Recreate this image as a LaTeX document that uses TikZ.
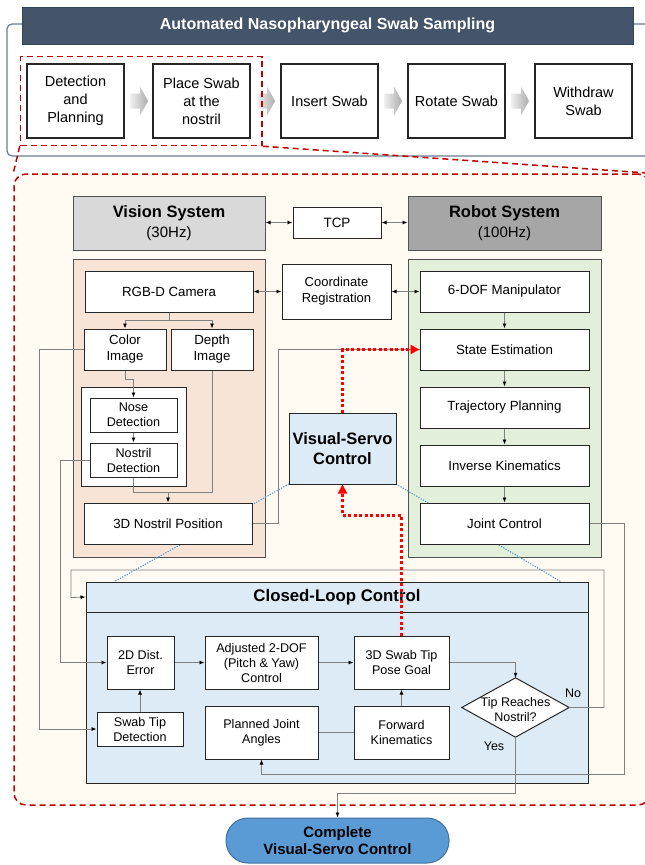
\documentclass[tikz,border=0pt]{standalone}
\usepackage{fontspec}
\setmainfont{Liberation Sans}
\usetikzlibrary{arrows.meta,calc,shapes.geometric}
\definecolor{hdrblue}{HTML}{44546A}
\definecolor{outerc}{HTML}{6B7B8F}
\definecolor{redd}{HTML}{C00000}
\definecolor{cream}{HTML}{FFFBF3}
\definecolor{vgray}{HTML}{D9D9D9}
\definecolor{rgray}{HTML}{A6A6A6}
\definecolor{peach}{HTML}{F8E4D7}
\definecolor{mint}{HTML}{E2EFDA}
\definecolor{lblue}{HTML}{DDEBF7}
\definecolor{pill}{HTML}{5B9BD5}
\definecolor{pillb}{HTML}{41719C}
\definecolor{connc}{HTML}{808080}
\definecolor{boxb}{HTML}{262626}
\begin{document}
\begin{tikzpicture}[x=1pt,y=-1pt,
  box/.style={draw=boxb, line width=1pt, fill=white, align=center, inner sep=1pt, font=\fontsize{13.3}{16}\selectfont},
  sbox/.style={box, font=\fontsize{12.6}{15}\selectfont},
  topbox/.style={box, line width=1.2pt, minimum width=97pt, minimum height=74pt, font=\fontsize{14.5}{18}\selectfont},
  rbox/.style={box, minimum width=169pt, minimum height=41pt},
  panel/.style={draw=boxb!80, line width=1pt, inner sep=0},
  hdrbox/.style={draw=boxb!80, line width=1pt, align=center, minimum width=192pt, minimum height=54pt, font=\fontsize{15}{20}\selectfont},
  conn/.style={draw=connc, line width=0.8pt},
  arr/.style={conn, -{Latex[length=5pt,width=4pt,color=black]}},
  dbl/.style={conn, {Latex[length=5pt,width=4pt,color=black]}-{Latex[length=5pt,width=4pt,color=black]}},
  reddot/.style={draw=red, line width=3pt, dash pattern=on 3pt off 2.5pt, -{Triangle[length=9pt,width=9pt,color=red]}},
  bdot/.style={draw=pill, line width=1.1pt, dash pattern=on 1.3pt off 1.3pt},
  reddash/.style={draw=redd, line width=1.5pt, dash pattern=on 6pt off 4pt}
]
\useasboundingbox (0,0) rectangle (645,865);
\clip (0,0) rectangle (645,865);
\fill[white] (0,0) rectangle (645,865);

% ---------- top section ----------
\node[draw=outerc, line width=1.2pt, rounded corners=5pt, minimum width=653pt, minimum height=132pt, inner sep=0] (frame) at (333.5,90) {};
\node[fill=hdrblue, draw=hdrblue!80!black, line width=0.8pt, minimum width=611pt, minimum height=37pt, inner sep=0, text=white, font=\fontsize{16}{19}\selectfont\bfseries] (title) at (327.5,25.5) {Automated Nasopharyngeal Swab Sampling};

\node[topbox] (s1) at (75.5,101) {Detection\\and\\Planning};
\node[topbox] (s2) at (201.5,101) {Place Swab\\at the\\nostril};
\node[topbox] (s3) at (329.5,101) {Insert Swab};
\node[topbox] (s4) at (456.5,101) {Rotate Swab};
\node[topbox] (s5) at (583.5,101) {Withdraw\\Swab};

\foreach \c in {139,266,393,520}{
  \shade[left color=gray!12, right color=gray!65]
    (\c-9,93.5) -- (\c+1,93.5) -- (\c+1,86.5) -- (\c+9,101) -- (\c+1,115.5) -- (\c+1,108.5) -- (\c-9,108.5) -- cycle;
}

% ---------- zoomed region ----------
\node[reddash, fill=cream, rounded corners=12pt, minimum width=636pt, minimum height=631pt, inner sep=0] (big) at (332,489.5) {};
\node[reddash, minimum width=241.5pt, minimum height=89pt, inner sep=0] (sel) at (141.25,101) {};
\draw[reddash] (sel.south west) -- (big.north west);
\draw[reddash] (sel.south east) -- (big.north east);

% headers
\node[hdrbox, fill=vgray] (vhdr) at (169,223) {{\fontsize{16.5}{20}\selectfont\bfseries Vision System}\\(30Hz)};
\node[box, minimum width=88pt, minimum height=31pt, font=\fontsize{13.5}{16}\selectfont] (tcp) at (337,222.5) {TCP};
\node[hdrbox, fill=rgray, minimum width=193pt] (rhdr) at (504.5,223) {{\fontsize{16.5}{20}\selectfont\bfseries Robot System}\\(100Hz)};

% panels
\node[panel, fill=peach, minimum width=192pt, minimum height=298pt] (vpanel) at (169,408) {};
\node[panel, fill=mint, minimum width=193pt, minimum height=298pt] (rpanel) at (504.5,408) {};

% closed loop container
\node[draw=boxb, line width=1pt, fill=lblue, minimum width=502pt, minimum height=201pt, inner sep=0] (cl) at (337,682.5) {};
\draw[draw=boxb, line width=1pt] ($(cl.north west)+(0,31)$) -- ($(cl.north east)+(0,31)$);
\node[font=\fontsize{16.8}{20}\selectfont\bfseries] (cltitle) at ($(cl.north)+(0,16)$) {Closed-Loop Control};
\coordinate (clhw) at ($(cl.north west)+(0,15.5)$);

% blue dotted zoom lines (behind boxes)
\coordinate (vssw) at (289,484);
\coordinate (vsse) at (396,484);
\draw[bdot] (vssw) -- ($(cl.north west)+(29,0)$);
\draw[bdot] (vsse) -- ($(cl.north east)+(-28,0)$);

% vision boxes
\node[box, minimum width=168pt, minimum height=41pt] (cam) at (169,291.5) {RGB-D Camera};
\node[box, minimum width=82pt, minimum height=41pt] (color) at (125,349.5) {Color\\Image};
\node[box, minimum width=82pt, minimum height=41pt] (depth) at (212,349.5) {Depth\\Image};
\node[draw=boxb, line width=1pt, fill=white, minimum width=105pt, minimum height=99pt, inner sep=0] (grp) at (133.5,436.5) {};
\node[sbox, minimum width=87pt, minimum height=34pt] (nose) at (133.5,415) {Nose\\Detection};
\node[sbox, minimum width=87pt, minimum height=34pt] (nostril) at (133.5,460) {Nostril\\Detection};
\node[box, minimum width=168pt, minimum height=41pt] (pos3d) at (168,523.5) {3D Nostril Position};

\node[box, minimum width=109pt, minimum height=55pt, font=\fontsize{13}{16}\selectfont] (coord) at (336.5,291.5) {Coordinate\\Registration};

% robot boxes
\node[rbox] (manip) at (504.5,291.5) {6-DOF Manipulator};
\node[rbox] (state) at (504.5,349.5) {State Estimation};
\node[rbox] (traj) at (504.5,407.5) {Trajectory Planning};
\node[rbox] (ik) at (504.5,465.5) {Inverse Kinematics};
\node[rbox] (joint) at (504.5,523.5) {Joint Control};

% visual servo
\node[box, fill=lblue, minimum width=107pt, minimum height=71pt, font=\fontsize{16.5}{20}\selectfont\bfseries] (vs) at (342.5,448.5) {Visual-Servo\\Control};

% closed loop boxes
\node[sbox, minimum width=67pt, minimum height=53pt] (err) at (140.5,662.5) {2D Dist.\\Error};
\node[sbox, minimum width=113pt, minimum height=53pt] (adj) at (261.5,662.5) {Adjusted 2-DOF\\(Pitch \& Yaw)\\Control};
\node[sbox, minimum width=95pt, minimum height=53pt] (goal) at (401.5,662.5) {3D Swab Tip\\Pose Goal};
\node[sbox, minimum width=86pt, minimum height=34pt] (tipdet) at (140,729) {Swab Tip\\Detection};
\node[sbox, minimum width=113pt, minimum height=53pt] (planned) at (261.5,732.5) {Planned Joint\\Angles};
\node[sbox, minimum width=95pt, minimum height=53pt] (fk) at (401.5,732.5) {Forward\\Kinematics};
\node[minimum width=107pt, minimum height=59pt, inner sep=0] (dia) at (515.5,707.5) {};
\draw[draw=boxb, line width=1pt, fill=white] (dia.north) -- (dia.east) -- (dia.south) -- (dia.west) -- cycle;
\node[align=center, font=\fontsize{12.5}{15}\selectfont] (diatxt) at (515.5,710) {Tip Reaches\\Nostril?};
\node[font=\fontsize{12.5}{15}\selectfont] (nolbl) at (573,693) {No};
\node[font=\fontsize{12.5}{15}\selectfont] (yeslbl) at (494,746) {Yes};

% complete
\node[draw=pillb, line width=1pt, fill=pill, rounded corners=22pt, minimum width=223pt, minimum height=45pt, align=center, font=\fontsize{15}{17}\selectfont\bfseries] (done) at (337.5,840.5) {Complete\\Visual-Servo Control};

% ---------- connectors ----------
\draw[dbl] (tcp.west) -- (tcp.west -| vhdr.east);
\draw[dbl] (tcp.east) -- (tcp.east -| rhdr.west);
\draw[dbl] (cam.east) -- (coord.west |- cam.east);
\draw[dbl] (coord.east |- manip.west) -- (manip.west);

\draw[arr] (cam.south) -- ++(0,8) -| (color.north);
\draw[arr] (cam.south) -- ++(0,8) -| (depth.north);
\draw[arr] (color.south) -- ++(0,9) -| (nose.north);
\draw[arr] (nose.south) -- (nostril.north);
\coordinate (mj) at ($(pos3d.north)+(0,-10)$);
\draw[conn] (nostril.south) |- (mj);
\draw[conn] (depth.south) |- (mj);
\draw[arr] (mj) -- (pos3d.north);

\draw[arr] (manip.south) -- (state.north);
\draw[arr] (state.south) -- (traj.north);
\draw[arr] (traj.south) -- (ik.north);
\draw[arr] (ik.south) -- (joint.north);

\draw[arr] (color.west) -- ++(-44,0) |- (tipdet.west);
\draw[arr] (nostril.west) -- ++(-29,0) |- (err.west);
\draw[conn] (pos3d.east) -- ++(26,0) |- (state.west);

\draw[arr] (joint.east) -- ++(35,0) |- ($(planned.south)+(0,15)$) -- (planned.south);
\draw[arr] (dia.east) -| (604,570) -| (71,597.5) -- (clhw);
\draw[arr] (dia.south) |- ($(done.north)+(0,-24)$) -- (done.north);

\draw[arr] (err.east) -- (adj.west);
\draw[arr] (adj.east) -- (goal.west);
\draw[arr] (goal.east) -| (dia.north);
\draw[arr] (tipdet.north) -- (tipdet.north |- err.south);
\draw[conn] (planned.east) -- (fk.west |- planned.east);
\draw[arr] (fk.north) -- (goal.south);

% red dotted
\draw[reddot] (vs.north) |- (state.west);
\draw[reddot] (goal.north) -- ++(0,-120) -| (vs.south);
\end{tikzpicture}
\end{document}
